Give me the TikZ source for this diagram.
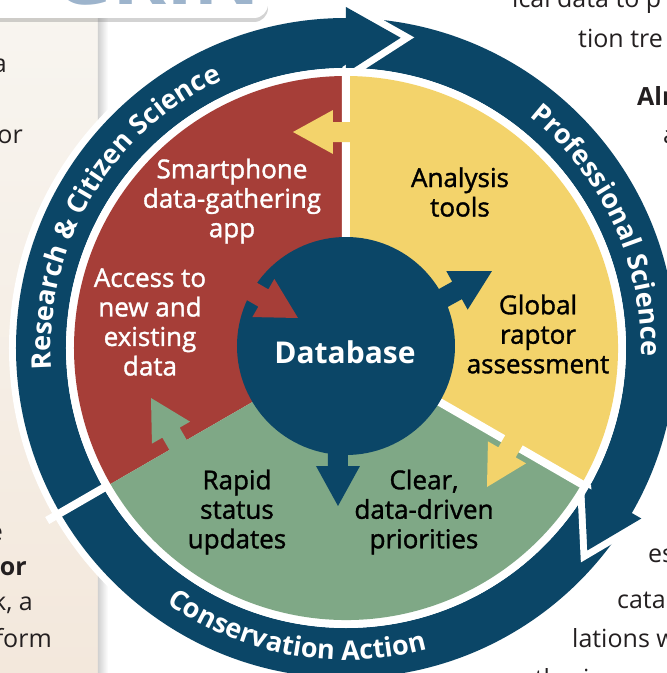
\documentclass[tikz,border=0pt]{standalone}
\usepackage{fontspec}
\setmainfont{Open Sans}
\newfontfamily\labelfont{Open Sans}[FakeBold=1.4]
\usetikzlibrary{decorations.text,shadows}

\definecolor{ringblue}{HTML}{0B4667}
\definecolor{appred}{HTML}{A63E38}
\definecolor{toolyellow}{HTML}{F3D36B}
\definecolor{actiongreen}{HTML}{7FA886}
\definecolor{pagebeige}{HTML}{F3E8DC}
\definecolor{pagelight}{HTML}{F8F5F0}
\definecolor{pageink}{HTML}{231F20}
\definecolor{logoblue}{HTML}{9DB4CC}

\newcommand\ringfont{\color{white}\bfseries\fontsize{27}{27}\selectfont}
\newcommand\blockarrow[4]{%
  \fill[#1, shift={(#2)}, rotate=#3] (0,0) -- (-40,22) -- (-40,10) -- (-#4,10)
    -- (-#4,-10) -- (-40,-10) -- (-40,-22) -- cycle;}
\newcommand\ringhead[1]{%
  \draw[white, line width=14pt, line join=miter] (#1:341) -- (#1-10:315) -- (#1:275);
  \fill[ringblue] (#1:341) -- (#1-10:315) -- (#1:275) -- cycle;}

\tikzset{
  sectortext/.style={align=center, inner sep=0pt, font=\labelfont\fontsize{26}{29.5}\selectfont},
  pagetext/.style={inner sep=0pt, text=pageink, font=\fontsize{25}{29}\selectfont},
  pagebold/.style={pagetext, font=\bfseries\fontsize{25}{29}\selectfont},
  gapline/.style={white, line width=8pt},
}

\begin{document}
\begin{tikzpicture}[x=1pt,y=1pt]
  \useasboundingbox (-346,-325) rectangle (321,348);
  \clip (-346,-325) rectangle (321,348);

  % page round the figure
  \shade[top color=pagelight, bottom color=pagebeige] (-346,-325) rectangle (-248,348);
  \shade[left color=black!18, right color=white] (-248,-325) rectangle (-238,348);
  \fill[white, rounded corners=14pt, drop shadow={opacity=.35, shadow xshift=0pt, shadow yshift=-4pt}]
    (-380,330) rectangle (-78,420);
  \node[anchor=base west, inner sep=0pt, text=logoblue, font=\bfseries\fontsize{82}{82}\selectfont] (grin) at (-293,343) {GRIN};

  \node[pagetext, anchor=base east] (l1) at (-339,276) {a};
  \node[pagetext, anchor=base east] (l2) at (-323,205) {or};
  \node[pagetext, anchor=base east] (l3) at (-343,-192) {e};
  \node[pagebold, anchor=base east] (l4) at (-319,-227) {or};
  \node[pagetext, anchor=base east] (l5) at (-313,-262) {k, a};
  \node[pagetext, anchor=base east] (l6) at (-294,-299) {form};
  \node[pagetext, anchor=base west] (r1) at (166,340) {ical data to p};
  \node[pagetext, anchor=base west] (r2) at (232,301) {tion tre};
  \node[pagebold, anchor=base west] (r3) at (291,243) {Alr};
  \node[pagetext, anchor=base west] (r4) at (317,205) {a};
  \node[pagetext, anchor=base west] (r5) at (302,-214) {es};
  \node[pagetext, anchor=base west] (r6) at (271,-260) {cata};
  \node[pagetext, anchor=base west] (r7) at (226,-299) {lations w};
  \node[pagetext, anchor=base west] (r8) at (161,-339) {gathering sy};

  % outer ring of arrows
  \fill[white] (0,0) circle (337);
  \fill[ringblue, even odd rule] (0,0) circle (330) (0,0) circle (280);
  \ringhead{90}
  \ringhead{330}
  \draw[gapline] (0,0) -- (210:345);
  \path[decorate, decoration={text along path, text align=center,
      text={|\ringfont|Research {\&} Citizen Science}}]
    (199.5:295) arc[start angle=199.5, end angle=99.5, radius=295];
  \path[decorate, decoration={text along path, text align=center,
      text={|\ringfont|Professional Science}}]
    (75:295) arc[start angle=75, end angle=-25, radius=295];
  \path[decorate, decoration={text along path, text align=center,
      text={|\ringfont|Conservation Action}}]
    (210:312) arc[start angle=210, end angle=310, radius=312];

  % three sectors
  \fill[white] (0,0) circle (280);
  \fill[appred] (0,0) -- (90:272) arc[start angle=90, end angle=210, radius=272] -- cycle;
  \fill[actiongreen] (0,0) -- (210:272) arc[start angle=210, end angle=330, radius=272] -- cycle;
  \fill[toolyellow] (0,0) -- (-30:272) arc[start angle=-30, end angle=90, radius=272] -- cycle;
  \draw[gapline] (0,0) -- (90:276) (0,0) -- (330:276);

  \node[circle, fill=ringblue, minimum size=218pt, inner sep=0pt] (db) at (0,2) {};
  \blockarrow{toolyellow}{-53,216}{180}{80}
  \blockarrow{toolyellow}{141,-139}{240}{80}
  \blockarrow{actiongreen}{-195,-50}{120}{80}
  \blockarrow{appred}{-48,30}{-30}{95}
  \blockarrow{ringblue}{146,77}{29}{95}
  \blockarrow{ringblue}{-8,-158}{270}{85}

  \node[text=white, font=\bfseries\fontsize{30}{30}\selectfont] (dbname) at (-1,-4) {Database};
  \node[sectortext, text=white] (app) at (-114,147) {Smartphone\\data-gathering\\app};
  \node[sectortext, text=white] (access) at (-196,26) {Access to\\new and\\existing\\data};
  \node[sectortext] (tools) at (114,156) {Analysis\\tools};
  \node[sectortext] (assess) at (192,14) {Global\\raptor\\assessment};
  \node[sectortext] (rapid) at (-109,-164) {Rapid\\status\\updates};
  \node[sectortext] (clear) at (78,-164) {Clear,\\data-driven\\priorities};
\end{tikzpicture}
\end{document}
